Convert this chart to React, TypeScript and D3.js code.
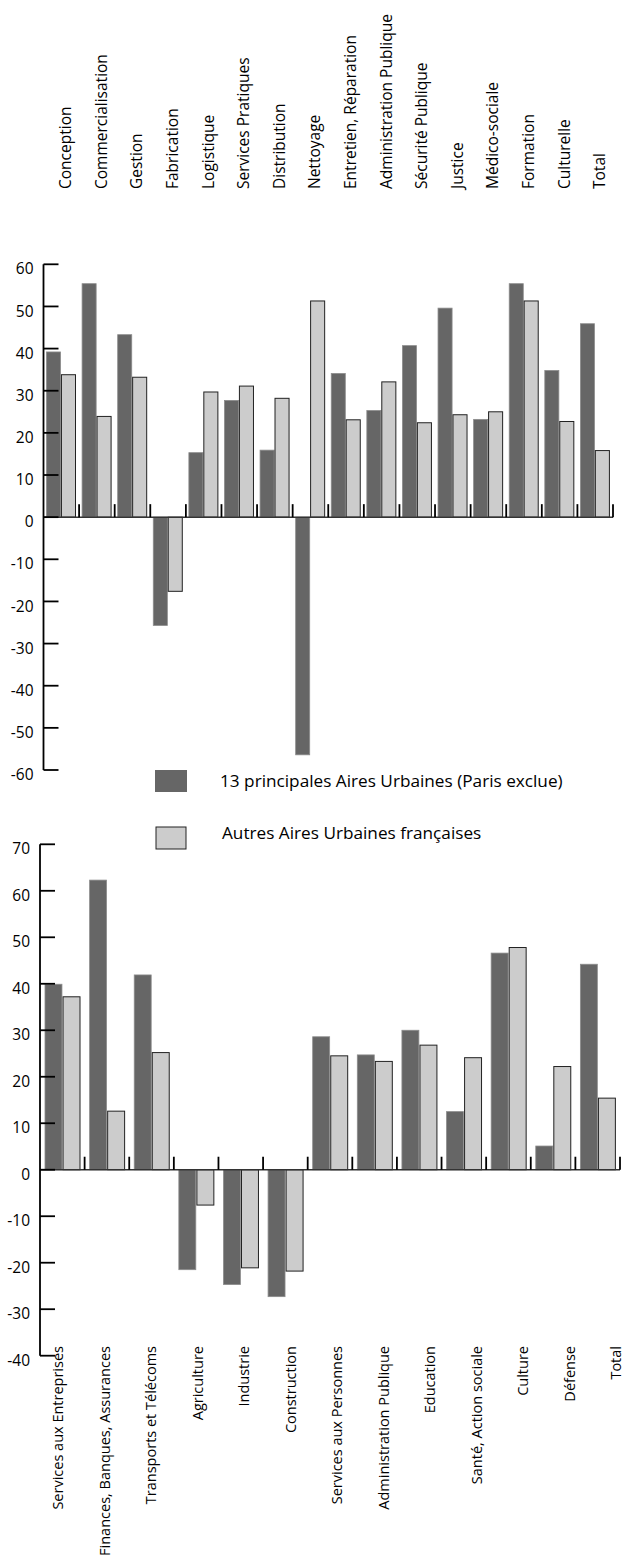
import React from 'react';
import * as d3 from 'd3';

const topCategories = [
  'Conception', 'Commercialisation', 'Gestion', 'Fabrication', 'Logistique',
  'Services Pratiques', 'Distribution', 'Nettoyage', 'Entretien, Réparation',
  'Administration Publique', 'Sécurité Publique', 'Justice', 'Médico-sociale',
  'Formation', 'Culturelle', 'Total',
];
const topMain = [39.2, 55.4, 43.3, -25.7, 15.3, 27.7, 15.9, -56.4, 34.1, 25.3, 40.7, 49.6, 23.2, 55.4, 34.8, 45.9];
const topOther = [33.8, 23.9, 33.2, -17.6, 29.7, 31.1, 28.2, 51.3, 23.1, 32.1, 22.4, 24.3, 25.0, 51.3, 22.7, 15.8];
const topTicks = [60, 50, 40, 30, 20, 10, 0, -10, -20, -30, -40, -50, -60];

const bottomCategories = [
  'Services aux Entreprises', 'Finances, Banques, Assurances', 'Transports et Télécoms',
  'Agriculture', 'Industrie', 'Construction', 'Services aux Personnes',
  'Administration Publique', 'Education', 'Santé, Action sociale', 'Culture',
  'Défense', 'Total',
];
const bottomMain = [39.9, 62.3, 41.9, -21.5, -24.7, -27.3, 28.6, 24.7, 30.0, 12.5, 46.6, 5.1, 44.2];
const bottomOther = [37.2, 12.6, 25.2, -7.6, -21.1, -21.8, 24.5, 23.3, 26.8, 24.1, 47.8, 22.2, 15.4];
const bottomTicks = [70, 60, 50, 40, 30, 20, 10, 0, -10, -20, -30, -40];

const seriesNames = ['13 principales Aires Urbaines (Paris exclue)', 'Autres Aires Urbaines françaises'];

const FONT = "'Open Sans', 'Noto Sans', sans-serif";
const DARK = '#666666';
const LIGHT = '#cccccc';

type PanelProps = {
  categories: string[];
  main: number[];
  other: number[];
  ticks: number[];
  domain: [number, number];
  yRange: [number, number];
  xRange: [number, number];
  inner: [number, number];
  tickFont: number;
  labelFont: number;
  labelMode: 'top' | 'bottom';
  labelPos: number;
  labelRange?: [number, number];
  labelOffset?: number;
};

function Panel(p: PanelProps) {
  const y = d3.scaleLinear().domain(p.domain).range(p.yRange);
  const x0 = d3.scaleBand<string>().domain(p.categories).range(p.xRange).padding(0);
  const x1 = d3.scaleBand<number>().domain([0, 1]).range(p.inner).paddingInner(0.06);
  const series = [p.main, p.other];
  const y0 = y(0);
  const axX = p.xRange[0];
  const labelX = p.labelRange
    ? d3.scalePoint<string>().domain(p.categories).range(p.labelRange)
    : null;

  return (
    <g>
      {series.map((vals, si) =>
        vals.map((v, i) => {
          const c = p.categories[i];
          const yv = y(v);
          return (
            <rect
              key={`b${si}-${i}`}
              x={(x0(c) as number) + (x1(si) as number)}
              y={Math.min(yv, y0)}
              width={x1.bandwidth()}
              height={Math.abs(yv - y0)}
              fill={si === 0 ? DARK : LIGHT}
              stroke={si === 0 ? '#8c8c8c' : '#222'}
              strokeWidth={si === 0 ? 0.8 : 1}
            />
          );
        })
      )}
      <line x1={axX} x2={p.xRange[1]} y1={y0} y2={y0} stroke="#333" strokeWidth={1.5} />
      {p.categories.map((c) => {
        const xe = (x0(c) as number) + x0.bandwidth();
        return <line key={`t${c}`} x1={xe} x2={xe} y1={y0} y2={y0 - 13} stroke="#000" strokeWidth={1.8} />;
      })}
      <line x1={axX} x2={axX} y1={y(p.domain[1])} y2={y(p.domain[0])} stroke="#000" strokeWidth={1.8} />
      {p.ticks.map((t) => (
        <g key={`yt${t}`}>
          <line x1={axX} x2={axX + 15} y1={y(t)} y2={y(t)} stroke="#000" strokeWidth={1.8} />
          <text
            x={axX - 10}
            y={y(t) + 6}
            textAnchor="end"
            dominantBaseline="middle"
            fontFamily={FONT}
            fontSize={p.tickFont}
            fill="#000"
          >
            {t}
          </text>
        </g>
      ))}
      {p.categories.map((c) => {
        const lx = labelX
          ? (labelX(c) as number)
          : (x0(c) as number) + x0.bandwidth() / 2 + (p.labelOffset || 0);
        return (
          <text
            key={`l${c}`}
            transform={`translate(${lx},${p.labelPos}) rotate(-90)`}
            textAnchor={p.labelMode === 'top' ? 'start' : 'end'}
            fontFamily={FONT}
            fontSize={p.labelFont}
            fill="#000"
          >
            {c}
          </text>
        );
      })}
    </g>
  );
}

export default function App() {
  const legend = [
    { name: seriesNames[0], fill: DARK, stroke: 'none', rx: 155, ry: 770, w: 32, tx: 220, ty: 787 },
    { name: seriesNames[1], fill: LIGHT, stroke: '#222', rx: 156, ry: 827, w: 30, tx: 222, ty: 839 },
  ];
  return (
    <>
      <style>{`body{margin:0}`}</style>
      <svg width={624} height={1555} style={{ display: 'block' }}>
        <Panel
          categories={topCategories}
          main={topMain}
          other={topOther}
          ticks={topTicks}
          domain={[-60, 60]}
          yRange={[770, 264.3]}
          xRange={[43.5, 613]}
          inner={[3, 32]}
          tickFont={15.5}
          labelFont={15.5}
          labelMode="top"
          labelPos={189}
          labelOffset={10}
        />
        <Panel
          categories={bottomCategories}
          main={bottomMain}
          other={bottomOther}
          ticks={bottomTicks}
          domain={[-40, 70]}
          yRange={[1355.7, 844.3]}
          xRange={[40, 620]}
          inner={[5, 40]}
          tickFont={15.5}
          labelFont={14.5}
          labelMode="bottom"
          labelPos={1346}
          labelRange={[63, 621]}
        />
        {legend.map((l) => (
          <g key={l.name}>
            <rect x={l.rx} y={l.ry} width={l.w} height={22} fill={l.fill} stroke={l.stroke} strokeWidth={1} />
            <text x={l.tx} y={l.ty} fontFamily={FONT} fontSize={17.2} fill="#000">
              {l.name}
            </text>
          </g>
        ))}
      </svg>
    </>
  );
}
